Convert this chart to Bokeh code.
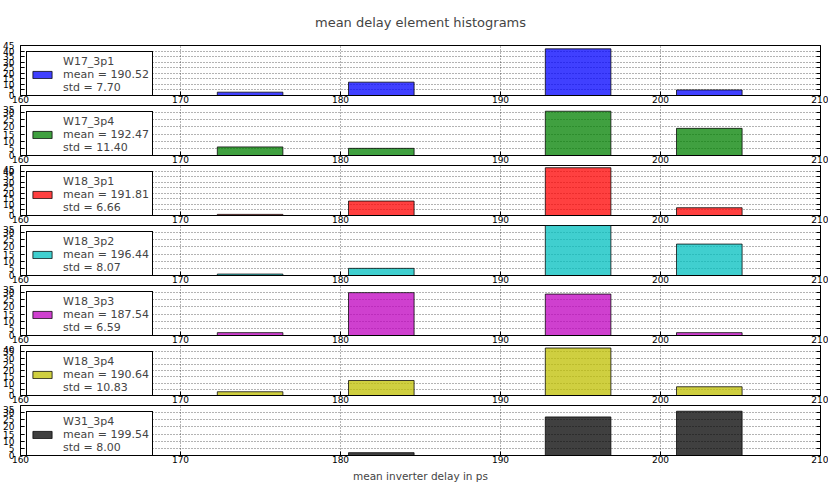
from bokeh.plotting import figure
from bokeh.layouts import column
from bokeh.models import (Range1d, SingleIntervalTicker, LinearAxis, Legend,
                          LegendItem, ColumnDataSource)
from bokeh.embed import file_html
from bokeh.resources import INLINE

# ---- data ----
names = ["W17_3p1", "W17_3p4", "W18_3p1", "W18_3p2", "W18_3p3", "W18_3p4", "W31_3p4"]
means = ["190.52", "192.47", "191.81", "196.44", "187.54", "190.64", "199.54"]
stds = ["7.70", "11.40", "6.66", "8.07", "6.59", "10.83", "8.00"]
bin_edges = [172.3, 176.4, 180.5, 184.6, 188.7, 192.8, 196.9, 201.0, 205.1]

counts_w17_3p1 = [3, 0, 12, 0, 0, 42, 0, 5]
counts_w17_3p4 = [6, 0, 5, 0, 0, 31, 0, 19]
counts_w18_3p1 = [1, 0, 13, 0, 0, 43, 0, 7]
counts_w18_3p2 = [1, 0, 5, 0, 0, 35, 0, 22]
counts_w18_3p3 = [2, 0, 30, 0, 0, 29, 0, 2]
counts_w18_3p4 = [3, 0, 12, 0, 0, 38, 0, 7]
counts_w31_3p4 = [0, 0, 2, 0, 0, 27, 0, 31]

y_max = [45, 35, 45, 35, 35, 40, 35]
colors = ["#0000ff", "#008000", "#ff0000", "#00bfbf", "#bf00bf", "#bfbf00", "#000000"]

x_ticks_interval = 10
y_ticks_interval = 5
title_text = "mean delay element histograms"
x_label = "mean inverter delay in ps"

all_counts = [counts_w17_3p1, counts_w17_3p4, counts_w18_3p1, counts_w18_3p2,
              counts_w18_3p3, counts_w18_3p4, counts_w31_3p4]

FONT = "DejaVu Sans"
figs = []
n = len(names)
for i in range(n):
    first = i == 0
    last = i == n - 1
    p = figure(frame_width=800, frame_height=50,
               x_range=Range1d(160, 210), y_range=Range1d(0, y_max[i]),
               output_backend="svg", toolbar_location=None,
               min_border_left=16, min_border_right=8,
               min_border_top=0, min_border_bottom=0,
               background_fill_color="white", border_fill_color="white",
               outline_line_color="black", outline_line_alpha=1,
               title=title_text if first else None,
               x_axis_label=x_label if last else None)
    if first:
        p.title.align = "center"
        p.title.vertical_align = "top"
        p.title.text_font = FONT
        p.title.text_font_size = "13px"
        p.title.text_font_style = "normal"
        p.title.standoff = 28

    xt = SingleIntervalTicker(interval=x_ticks_interval)
    yt = SingleIntervalTicker(interval=y_ticks_interval)
    p.xaxis.ticker = xt
    p.yaxis.ticker = yt
    p.xgrid.ticker = xt
    p.ygrid.ticker = yt
    for g in (p.xgrid, p.ygrid):
        g.grid_line_color = "black"
        g.grid_line_alpha = 0.6
        g.grid_line_dash = "1 2"
        g.grid_line_width = 1

    for ax in (p.xaxis, p.yaxis):
        ax.major_tick_in = 4
        ax.major_tick_out = 0
        ax.minor_tick_line_color = None
        ax.major_label_text_font = FONT
        ax.major_label_text_font_size = "9px"
        ax.major_label_text_color = "black"
        ax.axis_line_color = "black"
        ax.major_tick_line_color = "black"
    p.xaxis.major_label_standoff = -4
    p.yaxis.major_label_standoff = 2
    if last:
        p.xaxis.axis_label_text_font = FONT
        p.xaxis.axis_label_text_font_size = "10.5px"
        p.xaxis.axis_label_text_font_style = "normal"
        p.xaxis.axis_label_standoff = 4

    # right-hand ticks only (labels not drawn)
    right_ax = LinearAxis(ticker=yt, major_tick_in=4, major_tick_out=0,
                          minor_tick_line_color=None, major_label_text_font_size="1px",
                          major_label_text_color=None,
                          major_label_standoff=0, axis_line_color="black")
    p.add_layout(right_ax, "right")

    c = all_counts[i]
    left = [bin_edges[k] for k in range(len(c)) if c[k] > 0]
    right = [bin_edges[k + 1] for k in range(len(c)) if c[k] > 0]
    top = [c[k] for k in range(len(c)) if c[k] > 0]
    src = ColumnDataSource(dict(left=left, right=right, top=top))
    r = p.quad(left="left", right="right", top="top", bottom=0, source=src,
               fill_color=colors[i], fill_alpha=0.75,
               line_color="black", line_alpha=0.75, line_width=1)
    # an empty, transparent renderer so that only the middle legend row shows a swatch
    blank = p.quad(left=[], right=[], top=[], bottom=[],
                   fill_alpha=0, line_alpha=0)

    items = [LegendItem(label=names[i], renderers=[blank]),
             LegendItem(label=f"mean = {means[i]}", renderers=[r]),
             LegendItem(label=f"std = {stds[i]}", renderers=[blank])]
    leg = Legend(items=items,
                 location="top_left", margin=6, padding=3, spacing=0,
                 label_standoff=9, glyph_width=24, glyph_height=9,
                 label_height=12,
                 label_text_font=FONT, label_text_font_size="11px",
                 label_text_line_height=1.0,
                 border_line_color="black", border_line_width=1, border_line_alpha=1,
                 background_fill_color="white", background_fill_alpha=1)
    p.add_layout(leg)
    figs.append(p)

layout = column(*figs, spacing=0)
open("out.html", "w").write(file_html(layout, INLINE))
